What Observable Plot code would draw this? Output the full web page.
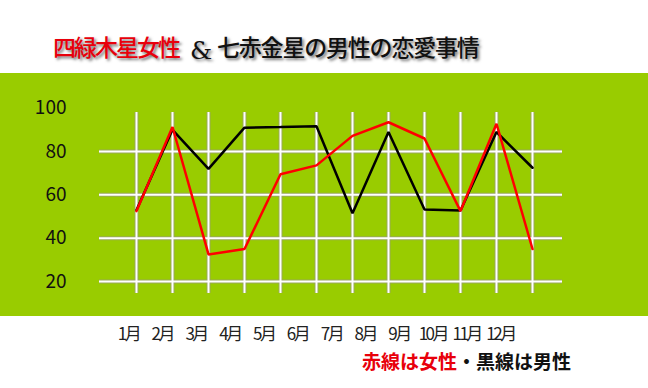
<!DOCTYPE html>
<html>
<head>
<meta charset="utf-8">
<script src="https://cdn.jsdelivr.net/npm/d3@7"></script>
<script src="https://cdn.jsdelivr.net/npm/@observablehq/plot@0.6"></script>
<style>
  html, body { margin: 0; padding: 0; background: #fff; }
  #wrap { position: relative; width: 648px; height: 388px; overflow: hidden; font-family: "Noto Sans CJK JP", sans-serif; }
  .abs { position: absolute; }
  .t { position: absolute; top: 35px; font-size: 23px; line-height: 23px; white-space: nowrap; font-weight: 500; text-shadow: 2px 2px 3px rgba(0,0,0,0.55); }
  #cap { position: absolute; left: 362px; top: 351px; font-size: 19px; line-height: 19px; font-weight: bold; white-space: nowrap; }
</style>
</head>
<body>
<div id="wrap">
  <div class="t" id="t1" style="left:53px; color:#e8000b; letter-spacing:-2px;"></div>
  <div class="t" id="t2" style="left:190px; top:39px; font-family:'DejaVu Serif',serif; font-size:25px; color:#111;"></div>
  <div class="t" id="t3" style="left:217px; color:#111; letter-spacing:-1.2px;"></div>
  <div class="abs" id="main" style="left:0; top:73px;"></div>
  <div class="abs" id="xl" style="left:0; top:317px;"></div>
  <div id="cap"></div>
</div>
<script>
const titleRed = "四緑木星女性";
const titleAmp = "&";
const titleBlack = "七赤金星の男性の恋愛事情";
const captionRed = "赤線は女性";
const captionBlack = "・黒線は男性";

const months = ["1月","2月","3月","4月","5月","6月","7月","8月","9月","10月","11月","12月"];
const maleValues   = [53, 90, 72, 91, 91.3, 91.7, 51.5, 89, 53.2, 52.8, 89, 72.5];
const femaleValues = [52.5, 91.3, 32.5, 35, 69.5, 73.6, 87.2, 93.5, 86, 52.5, 92.8, 35];
const yTicks = [20, 40, 60, 80, 100];
const yGrid = [20, 40, 60, 80];

document.getElementById("t1").textContent = titleRed;
document.getElementById("t2").textContent = titleAmp;
document.getElementById("t3").textContent = titleBlack;
const cap = document.getElementById("cap");
const s1 = document.createElement("span"); s1.style.color = "#e8000b"; s1.textContent = captionRed;
const s2 = document.createElement("span"); s2.style.color = "#111"; s2.textContent = captionBlack;
cap.append(s1, s2);

const idx = months.map((d, i) => i + 1);
const male = months.map((m, i) => ({m: i + 1, v: maleValues[i]}));
const female = months.map((m, i) => ({m: i + 1, v: femaleValues[i]}));

const main = Plot.plot({
  width: 648,
  height: 243,
  marginLeft: 99,
  marginRight: 86,
  marginTop: 39,
  marginBottom: 23,
  style: {background: "#99cc00", overflow: "visible", fontFamily: "'Noto Sans CJK JP', sans-serif"},
  x: {domain: [1, 12], insetLeft: 37, insetRight: 30, axis: null},
  y: {domain: [20, 80], insetTop: 39, insetBottom: 12, axis: null},
  marks: [
    Plot.ruleY(yGrid, {stroke: "#9a9a80", strokeOpacity: 0.7, strokeWidth: 4}),
    Plot.ruleX(idx, {stroke: "#9a9a80", strokeOpacity: 0.7, strokeWidth: 4}),
    Plot.ruleY(yGrid, {stroke: "white", strokeWidth: 2}),
    Plot.ruleX(idx, {stroke: "white", strokeWidth: 2}),
    Plot.axisY({ticks: yTicks, tickSize: 0, tickPadding: 33, fontSize: 19, fill: "#111", label: null, tickFormat: d => String(d)}),
    Plot.line(male, {x: "m", y: "v", stroke: "#000", strokeWidth: 2.5, strokeLinejoin: "miter"}),
    Plot.line(female, {x: "m", y: "v", stroke: "#ff0000", strokeWidth: 2.5, strokeLinejoin: "miter"})
  ]
});
document.getElementById("main").append(main);

const xl = Plot.plot({
  width: 648,
  height: 34,
  marginLeft: 128,
  marginRight: 148,
  marginTop: 0,
  marginBottom: 0,
  style: {background: "transparent", overflow: "visible", fontFamily: "'Noto Sans CJK JP', sans-serif"},
  x: {domain: [1, 12], axis: null},
  marks: [
    Plot.text(months, {x: (d, i) => i + 1, text: d => d, fontSize: 17, fill: "#222"})
  ]
});
xl.querySelectorAll("text").forEach(t => t.style.letterSpacing = "-2.5px");
document.getElementById("xl").append(xl);
</script>
</body>
</html>
